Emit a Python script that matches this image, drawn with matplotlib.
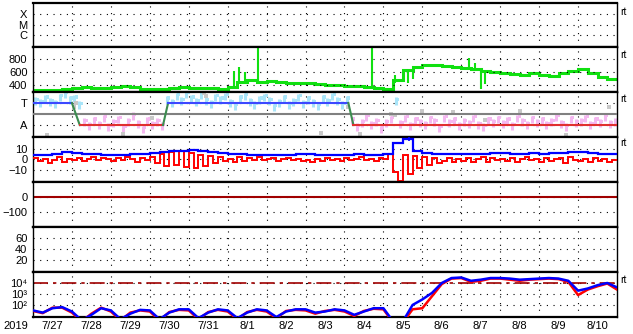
import numpy as np
import matplotlib
matplotlib.use('Agg')
import matplotlib.pyplot as plt
from matplotlib.ticker import NullLocator

plt.rcParams['font.family'] = ['Liberation Sans', 'DejaVu Sans']

# ---------------- data ----------------
year_label = '2019'
day_labels = ['7/27', '7/28', '7/29', '7/30', '7/31', '8/1', '8/2', '8/3',
              '8/4', '8/5', '8/6', '8/7', '8/8', '8/9', '8/10']

# solar wind speed (km/s), every 6 h from 7/27 00:00
speed = [325, 318, 330, 338,
         358, 362, 348, 352,
         372, 378, 362, 342,
         336, 344, 348, 362,
         352, 346, 356, 342,
         372, 445, 470, 445,
         455, 440, 430, 436,
         425, 415, 405, 398,
         385, 378, 365, 355,
         335, 480, 625, 680,
         705, 712, 690, 682,
         660, 640, 622, 600,
         585, 570, 560, 580,
         560, 545, 580, 620,
         640, 580, 520, 495]
speed_spike_t = [5.15, 5.3, 5.45, 5.78, 8.71, 9.3, 9.62, 9.75, 11.2, 11.35, 11.5, 11.6]
speed_spike_v = [620, 680, 600, 1000, 1000, 560, 430, 490, 820, 740, 340, 420]

# IMF sector: T=3, A=1 (every 3 h)
imf_dir = [3.2, 3.0, 3.4, 3.1, 2.9, 3.5, 3.8, 3.3,
           3.4, 2.8, 1.3, 0.9, 1.4, 1.0, 1.6, 0.8,
           1.2, 1.5, 0.7, 1.3, 1.8, 1.1, 0.6, 1.4,
           1.0, 1.3, 0.9, 3.3, 3.0, 3.6, 3.2, 3.8,
           3.4, 3.1, 3.7, 3.2, 2.9, 3.5, 3.3, 3.6,
           3.0, 2.7, 3.4, 3.6, 3.1, 2.8, 3.3, 3.5,
           3.2, 2.6, 3.0, 3.4, 2.8, 3.1, 3.5, 2.9,
           3.3, 3.0, 2.7, 3.4, 3.1, 3.6, 3.2, 2.8,
           3.3, 1.4, 0.8, 1.2, 1.7, 1.0, 1.3, 0.6,
           1.2, 1.5, 3.2, 1.1, 1.6, 0.9, 1.4, 1.2,
           1.0, 1.5, 1.3, 0.7, 1.6, 1.2, 1.4, 0.9,
           1.3, 1.1, 1.6, 1.0, 0.8, 1.4, 1.2, 1.5,
           1.1, 1.4, 0.9, 1.6, 1.3, 1.0, 1.5, 1.2,
           1.4, 1.0, 1.3, 1.7, 1.1, 0.8, 1.5, 1.2,
           1.3, 1.6, 1.0, 1.4, 1.2, 1.7, 1.1, 1.3]
gray_t = [0.35, 1.05, 1.1, 2.3, 3.05, 4.4, 4.45, 7.4, 8.1, 8.4, 9.2, 9.3, 10.0, 10.8, 11.6, 12.5, 13.7, 14.8]
gray_v = [0.1, 2.6, 3.0, 0.2, 1.6, 3.9, 3.6, 0.3, 2.6, 0.2, 2.0, 1.9, 2.3, 2.2, 1.5, 2.3, 0.1, 2.6]
sector_t = [0, 1.0, 1.2, 3.34, 3.47, 8.1, 8.23, 15]
sector_v = [3, 3, 1, 1, 3, 3, 1, 1]

# IMF Bt (every 6 h) and Bz (every 3 h), nT
bt = [4, 4, 5, 7,
      6, 5, 5, 4,
      4, 4, 5, 5,
      6, 7, 8, 8,
      9, 8, 7, 6,
      5, 5, 4, 4,
      4, 4, 4, 5,
      5, 4, 4, 4,
      4, 5, 4, 4,
      5, 15, 19, 8,
      6, 5, 5, 5,
      5, 5, 5, 6,
      6, 5, 5, 6,
      5, 6, 6, 7,
      7, 6, 5, 5]
bt_spike_t = [9.67]
bt_spike_v = [21]
bz = [1, -2, 0, -4, -1, 2, -3, 0,
      -1, 1, -2, 0, 2, -1, 1, 0,
      -2, 1, -1, 2, 0, -3, 1, -1,
      2, -4, 5, -6, 7, -5, 8, -7,
      6, -8, 4, -6, 3, -4, 2, -2,
      0, -3, 2, -2, 1, -1, 2, -1,
      0, 1, -2, 0, 1, -1, 0, -2,
      -1, -3, 0, -2, 1, -1, 0, -2,
      1, -1, 0, 2, -1, 0, -2, 1,
      0, 5, -12, -21, 4, -14, 3, -8,
      2, -5, 1, -4, -2, 1, -3, 0,
      -2, 1, -3, 0, 2, -3, 1, -1,
      0, -2, 1, -3, 0, 2, -1, 0,
      -3, 1, -2, 0, 1, -4, 2, -1,
      -2, 0, -3, 1, -2, 0, -3, -1]

# electron flux, log10, every 6 h (61 points to 8/11 00:00)
elec_blue = [1.5, 1.3, 1.7, 1.8,
             1.4, 0.6, 1.1, 1.7,
             1.5, 0.7, 1.2, 1.55,
             1.5, 0.7, 1.3, 1.6,
             1.6, 0.8, 1.3, 1.6,
             1.5, 0.8, 1.3, 1.6,
             1.5, 0.9, 1.4, 1.6,
             1.6, 1.3, 1.4, 1.6,
             1.5, 1.1, 1.4, 1.7,
             1.7, 0.5, 0.5, 2.0,
             2.5, 3.1, 4.0, 4.45,
             4.5, 4.2, 4.3, 4.45,
             4.45, 4.4, 4.3, 4.35,
             4.4, 4.45, 4.4, 4.2,
             3.3, 3.5, 3.8, 4.0,
             3.6]
elec_red = [1.45, 1.25, 1.75, 1.75,
            1.3, 0.5, 1.2, 1.75,
            1.4, 0.6, 1.3, 1.5,
            1.4, 0.6, 1.35, 1.55,
            1.5, 0.7, 1.35, 1.55,
            1.4, 0.7, 1.35, 1.55,
            1.4, 0.8, 1.45, 1.55,
            1.5, 1.2, 1.45, 1.55,
            1.4, 1.0, 1.45, 1.65,
            1.6, 0.4, 0.4, 1.6,
            1.7, 2.8, 3.9, 4.4,
            4.45, 4.1, 4.2, 4.4,
            4.4, 4.3, 4.2, 4.3,
            4.35, 4.4, 4.35, 4.1,
            2.9, 3.4, 3.7, 3.95,
            3.4]
elec_alert = 1e4
dst_ref = 0

# ---------------- layout ----------------
W, H = 633, 334
L, R = 33, 617
fig = plt.figure(figsize=(W / 100, H / 100), dpi=100)
fig.patch.set_facecolor('white')

DOT = (0, (1, 5))


def make_ax(top, bot):
    ax = fig.add_axes([L / W, 1 - bot / H, (R - L) / W, (bot - top) / H])
    ax.set_xlim(0, 15)
    ax.set_xticks(np.arange(1, 15))
    ax.tick_params(axis='both', which='both', length=0, labelsize=8, pad=4)
    ax.tick_params(axis='x', labelbottom=False)
    for s in ['top', 'bottom']:
        ax.spines[s].set_linewidth(1.6)
    for s in ['left', 'right']:
        ax.spines[s].set_linewidth(1.0)
    ax.grid(True, color='black', lw=0.8, linestyle=DOT)
    return ax


e6 = np.arange(61) * 0.25      # 6-hour bin edges
e3 = np.arange(121) * 0.125    # 3-hour bin edges
c6 = e6[:-1] + 0.125
c3 = e3[:-1] + 0.0625
t6e = np.arange(61) * 0.25

# panel 1: X-ray classes
ax1 = make_ax(3, 47)
ax1.set_yscale('log')
ax1.set_ylim(10 ** -7.14, 10 ** -2.95)
ax1.set_yticks([1e-6, 1e-5, 1e-4])
ax1.set_yticklabels(['C', 'M', 'X'])
ax1.yaxis.set_minor_locator(NullLocator())

# panel 2: speed
ax2 = make_ax(47, 92)
ax2.set_ylim(292, 985)
ax2.set_yticks([400, 600, 800])
ax2.stairs(speed, e6, baseline=None, color='#10e010', lw=2.2)
base = np.interp(speed_spike_t, c6, speed)
ax2.vlines(speed_spike_t, base, speed_spike_v, color='#10e010', lw=1.5)

# panel 3: sector
ax3 = make_ax(92, 137)
ax3.set_ylim(-0.09, 4)
ax3.set_yticks([1, 3])
ax3.set_yticklabels(['A', 'T'])
ax3.axhline(2, color='#808080', lw=1.5, zorder=3)
imf = np.array(imf_dir)
cols = np.where(imf > 2, '#a8e4f8', '#f4b8f0')
ax3.vlines(c3, imf - 0.35, imf + 0.35, colors=cols, lw=2.2, zorder=2)
ax3.scatter(c3 + 0.05, imf + 0.15, s=5, marker='s', c=cols, lw=0, zorder=2)
ax3.scatter(gray_t, gray_v, s=7, marker='s', c='#c8c8c8', lw=0, zorder=2)
for i in range(len(sector_t) - 1):
    v0, v1 = sector_v[i], sector_v[i + 1]
    c = '#3c48ff' if (v0 == 3 and v1 == 3) else ('#e03030' if (v0 == 1 and v1 == 1) else '#3c8c50')
    ax3.plot(sector_t[i:i + 2], sector_v[i:i + 2], color=c, lw=1.5, zorder=4)

# panel 4: IMF
ax4 = make_ax(137, 182)
ax4.set_ylim(-21.5, 21)
ax4.set_yticks([-10, 0, 10])
ax4.stairs(bz, e3, baseline=None, color='#ff0000', lw=1.4, zorder=3)
ax4.stairs(bt, e6, baseline=None, color='#0000ff', lw=1.6, zorder=4)
ax4.vlines(bt_spike_t, np.interp(bt_spike_t, c6, bt), bt_spike_v, color='#0000ff', lw=1.2, zorder=4)

# panel 5: Dst
ax5 = make_ax(182, 227)
ax5.set_ylim(-200, 100)
ax5.set_yticks([-100, 0])
ax5.axhline(dst_ref, color='#a00000', lw=1.5)

# panel 6: Kp
ax6 = make_ax(227, 272)
ax6.set_ylim(-1, 80)
ax6.set_yticks([20, 40, 60])

# panel 7: electrons
ax7 = make_ax(272, 317)
ax7.set_yscale('log')
ax7.set_ylim(10 ** 0.9, 1e5)
ax7.set_yticks([1e2, 1e3, 1e4])
ax7.set_yticklabels(['10\u00b2', '10\u00b3', '10\u2074'])
ax7.yaxis.set_minor_locator(NullLocator())
ax7.axhline(elec_alert, color='#a00000', lw=1.2, dashes=(9, 3, 2, 3))
ax7.plot(t6e, 10 ** np.array(elec_red), color='#ff0000', lw=1.8, zorder=3)
ax7.plot(t6e, 10 ** np.array(elec_blue), color='#0000ff', lw=1.8, zorder=4)
ax7.set_xticks(np.arange(15) + 0.5, minor=True)
ax7.set_xticklabels(day_labels, minor=True)
ax7.tick_params(axis='x', which='minor', labelbottom=True, length=0, labelsize=8, pad=3)

fig.text(16 / W, 1 - 326 / H, year_label, ha='center', va='center', fontsize=8)
for y in [12, 55, 99, 143, 280]:
    fig.text(620 / W, 1 - y / H, 'rt', fontsize=7.5, va='center', ha='left')

fig.savefig('out.png', dpi=100)
